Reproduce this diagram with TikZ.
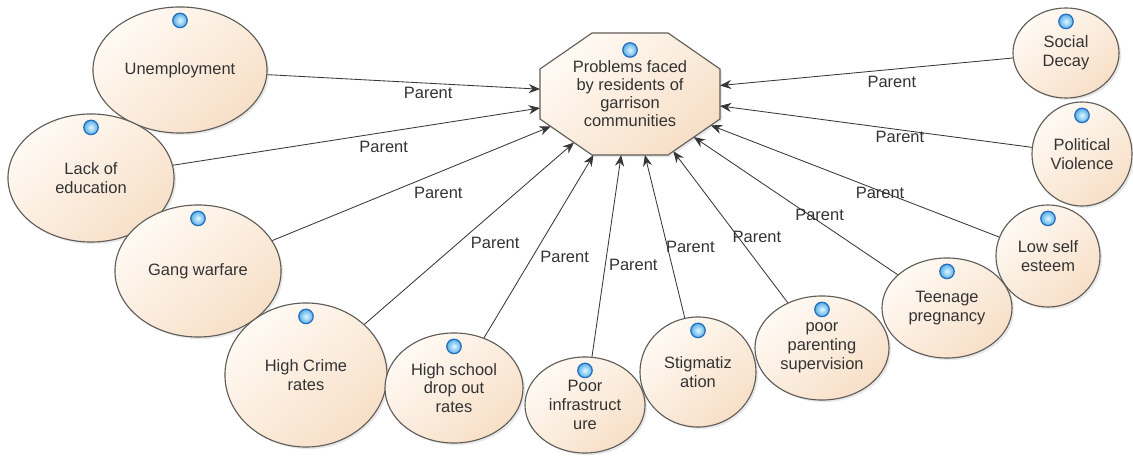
\documentclass[tikz,border=0pt]{standalone}
\usepackage{fontspec}
\setmainfont{Liberation Sans}
\usetikzlibrary{arrows.meta,shapes.geometric,shadows,intersections}

\definecolor{peachlight}{RGB}{255,250,244}
\definecolor{peachdark}{RGB}{247,223,199}
\definecolor{rimgray}{RGB}{96,92,88}
\definecolor{linkgray}{RGB}{55,55,55}
\definecolor{bulbcore}{RGB}{225,247,255}
\definecolor{bulbblue}{RGB}{85,175,232}
\definecolor{bulbrim}{RGB}{40,110,190}

\tikzset{
  problem/.style={ellipse, draw=rimgray, line width=0.8pt, inner sep=0pt,
    top color=peachlight, bottom color=peachdark, shading angle=40,
    drop shadow={opacity=0.18, shadow xshift=1.5pt, shadow yshift=-1.5pt},
    align=center, text=black!80, font=\fontsize{11.7}{13.4}\selectfont},
  hubrim/.style={draw=rimgray, line width=0.8pt,
    top color=peachlight, bottom color=peachdark, shading angle=40,
    drop shadow={opacity=0.18, shadow xshift=1.5pt, shadow yshift=-1.5pt}},
  hubtext/.style={align=center, text=black!80, inner sep=0pt,
    font=\fontsize{11.7}{12.8}\selectfont},
  bulb/.style={circle, inner sep=0pt, minimum size=0.36cm,
    inner color=bulbcore, outer color=bulbblue, draw=bulbrim, line width=0.9pt},
  link/.style={->, draw=linkgray, line width=0.6pt},
  parentlabel/.style={text=black!80, inner sep=0pt, font=\fontsize{11.7}{13.4}\selectfont},
  >={Stealth[length=8pt,width=6.5pt]}
}

\begin{document}
\begin{tikzpicture}[x=0.025cm, y=-0.025cm]
  \useasboundingbox (0,0) rectangle (1133,457);

  % the octagon in the middle
  \path[hubrim, name path=hubpath, shift={(630,94)}]
    (-38,-61) -- (38,-61) -- (90,-25) -- (90,25) -- (38,61) -- (-38,61)
    -- (-90,25) -- (-90,-25) -- cycle;
  \node[hubtext] (hub) at (630,94) {Problems faced\\by residents of\\garrison\\communities};

  % causes round the hub
  \foreach \n/\x/\y/\rx/\ry/\txt in {
      un/180/70/87/63/{Unemployment},
      le/91/178/83/64/{Lack of\\education},
      gw/198/271/83/66/{Gang warfare},
      hc/306/375/81/72/{High Crime\\rates},
      hs/454/388/69/55/{High school\\drop out\\rates},
      pi/585/405/60/48/{Poor\\infrastruct\\ure},
      st/698/372/58/55/{Stigmatiz\\ation},
      pp/822/348/67/52/{poor\\parenting\\supervision},
      tp/947/308/65/50/{Teenage\\pregnancy},
      ls/1048/256/52/51/{Low self\\esteem},
      pv/1082/154/50/52/{Political\\Violence},
      sd/1066/53/53/45/{Social\\Decay}}
    \node[problem, minimum width=\rx*0.05cm, minimum height=\ry*0.05cm] (\n) at (\x,\y) {\txt};

  \node[bulb] (hub-bulb) at (630,50) {};
  \foreach \n in {un,le,gw,hc,hs,pi,st,pp,tp,ls,pv,sd}
    \node[bulb] (\n-bulb) at ([yshift=-0.35cm]\n.north) {};

  \foreach \n/\p/\dx/\dy in {
      un/0.59/0/10, le/0.574/0/15, gw/0.596/0/20, hc/0.624/0/32,
      hs/0.444/32/0, pi/0.456/28/0, st/0.437/23/0, pp/0.435/19/0,
      tp/0.383/0/-7, ls/0.413/0/2, pv/0.423/0/7, sd/0.413/0/13}
  {
    \path[name path=ray] (\n) -- (hub.center);
    \draw[link, name intersections={of=ray and hubpath}]
      (\n) -- node[parentlabel, pos=\p, shift={(\dx,\dy)}] {Parent} (intersection-1);
  }
\end{tikzpicture}
\end{document}
